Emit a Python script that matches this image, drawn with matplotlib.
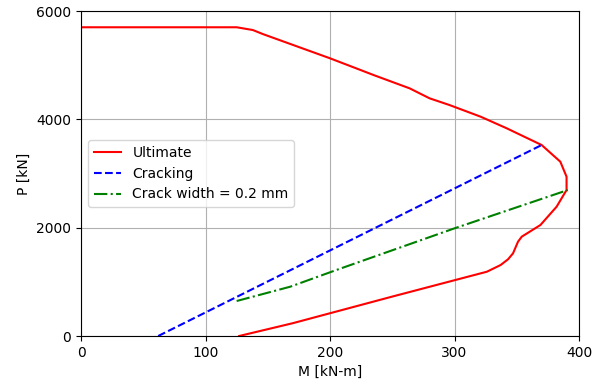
import matplotlib
matplotlib.use("Agg")
import matplotlib.pyplot as plt

# Ultimate interaction curve (M in kN-m, P in kN)
M_ult = [0, 125, 138, 146, 200, 221, 235, 264, 280, 296, 321, 342, 370, 385, 390, 390,
         382, 369, 354, 351, 347, 343, 337, 326, 250, 170, 127]
P_ult = [5700, 5700, 5649, 5575, 5127, 4942, 4818, 4572, 4388, 4264, 4049, 3834, 3526, 3218, 2941, 2695,
         2387, 2049, 1834, 1741, 1526, 1416, 1310, 1187, 728, 236, 0]

# Cracking line
M_cr = [62, 370]
P_cr = [0, 3526]

# Crack width = 0.2 mm
M_cw = [125, 168, 205, 300, 391]
P_cw = [646, 910, 1218, 1988, 2695]

fig = plt.figure(figsize=(6.02, 3.88), dpi=100)
ax = fig.add_axes([0.1346, 0.134, 0.8272, 0.8376])
ax.plot(M_ult, P_ult, 'r-', label='Ultimate')
ax.plot(M_cr, P_cr, 'b--', label='Cracking')
ax.plot(M_cw, P_cw, 'g-.', label='Crack width = 0.2 mm')
ax.set_xlim(0, 400)
ax.set_ylim(0, 6000)
ax.set_xticks([0, 100, 200, 300, 400])
ax.set_yticks([0, 2000, 4000, 6000])
ax.grid(True)
ax.set_xlabel('M [kN-m]')
ax.set_ylabel('P [kN]')
ax.legend(loc='center left')
fig.savefig('out.png', dpi=100)
